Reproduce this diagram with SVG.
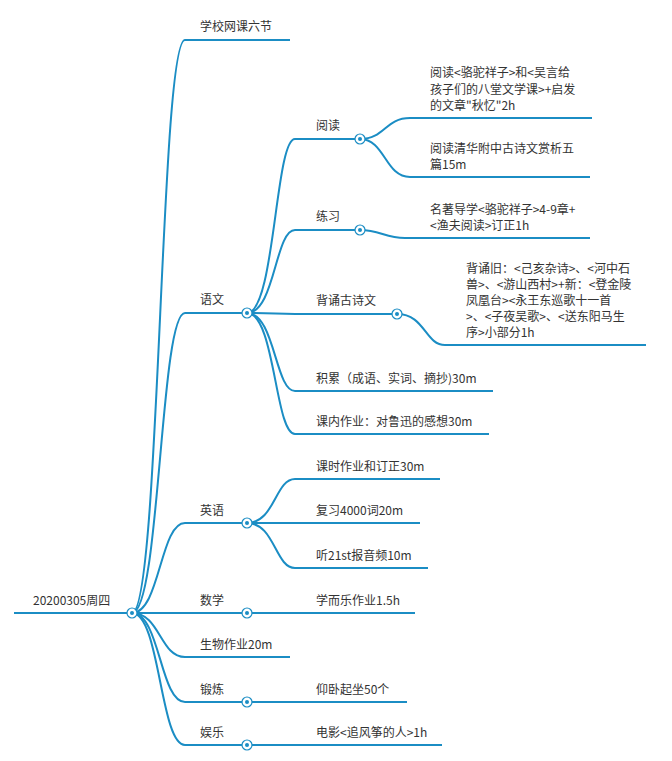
<svg xmlns="http://www.w3.org/2000/svg" width="672" height="761" viewBox="0 0 672 761">
<style>
.c{fill:none;stroke:#1b8dc4;stroke-width:2}
text{font-family:"Noto Sans CJK SC","Noto Sans",sans-serif;font-size:12px;fill:#333}
.dot circle.o{fill:#fff;stroke:#1b8dc4;stroke-width:1.2}
.dot circle.i{fill:#1b8dc4}
</style>
<defs>
<g id="d"><circle r="5" fill="#fff" stroke="#1b8dc4" stroke-width="1.2"/><circle r="2" fill="#1b8dc4"/></g>
</defs>
<g id="connectors">
<path class="c" d="M14 613H132"/>
<path class="c" d="M132 613C160 613 160 40 185 40H290"/>
<path class="c" d="M132 613C160 613 160 313 185 313H247"/>
<path class="c" d="M132 613C160 613 160 523 185 523H247"/>
<path class="c" d="M132 613H247"/>
<path class="c" d="M132 613C160 613 160 657 185 657H290"/>
<path class="c" d="M132 613C160 613 160 702 185 702H247"/>
<path class="c" d="M132 613C160 613 160 745 185 745H247"/>
<path class="c" d="M247 313C275 313 275 139 295 139H360"/>
<path class="c" d="M247 313C275 313 275 230 295 230H360"/>
<path class="c" d="M247 313C275 313 275 314 295 314H397"/>
<path class="c" d="M247 313C275 313 275 391 295 391H493"/>
<path class="c" d="M247 313C275 313 275 434 295 434H489"/>
<path class="c" d="M360 139C385 139 385 118 410 118H592"/>
<path class="c" d="M360 139C385 139 385 177 410 177H590"/>
<path class="c" d="M360 230C380 230 385 238 405 238H590"/>
<path class="c" d="M397 314C425 314 425 345 445 345H646"/>
<path class="c" d="M247 523C275 523 275 479 295 479H440"/>
<path class="c" d="M247 523H420"/>
<path class="c" d="M247 523C275 523 275 568 295 568H428"/>
<path class="c" d="M247 613H415"/>
<path class="c" d="M247 702H407"/>
<path class="c" d="M247 745H442"/>
</g>
<g id="root"><text x="33" y="605">20200305周四</text><use href="#d" x="132" y="613"/></g>
<g id="n-xuexiao"><text x="200" y="31">学校网课六节</text></g>
<g id="n-yuwen"><text x="200" y="304">语文</text><use href="#d" x="247" y="313"/></g>
<g id="n-yuedu"><text x="316" y="130">阅读</text><use href="#d" x="360" y="139"/></g>
<g id="n-yuedu1"><text x="430" y="77">阅读&lt;骆驼祥子&gt;和&lt;吴言给</text><text x="430" y="94">孩子们的八堂文学课&gt;+启发</text><text x="430" y="110">的文章"秋忆"2h</text></g>
<g id="n-yuedu2"><text x="430" y="153">阅读清华附中古诗文赏析五</text><text x="430" y="169">篇15m</text></g>
<g id="n-lianxi"><text x="316" y="221">练习</text><use href="#d" x="360" y="230"/></g>
<g id="n-lianxi1"><text x="430" y="214">名著导学&lt;骆驼祥子&gt;4-9章+</text><text x="430" y="230">&lt;渔夫阅读&gt;订正1h</text></g>
<g id="n-beisong"><text x="316" y="305">背诵古诗文</text><use href="#d" x="397" y="314"/></g>
<g id="n-beisong1"><text x="466" y="273">背诵旧：&lt;己亥杂诗&gt;、&lt;河中石</text><text x="466" y="289">兽&gt;、&lt;游山西村&gt;+新：&lt;登金陵</text><text x="466" y="305">凤凰台&gt;&lt;永王东巡歌十一首</text><text x="466" y="321">&gt;、&lt;子夜吴歌&gt;、&lt;送东阳马生</text><text x="466" y="337">序&gt;小部分1h</text></g>
<g id="n-jilei"><text x="316" y="383">积累（成语、实词、摘抄)30m</text></g>
<g id="n-kenei"><text x="316" y="426">课内作业：对鲁迅的感想30m</text></g>
<g id="n-yingyu"><text x="200" y="515">英语</text><use href="#d" x="247" y="523"/></g>
<g id="n-en1"><text x="316" y="471">课时作业和订正30m</text></g>
<g id="n-en2"><text x="316" y="515">复习4000词20m</text></g>
<g id="n-en3"><text x="316" y="560">听21st报音频10m</text></g>
<g id="n-shuxue"><text x="200" y="605">数学</text><use href="#d" x="247" y="613"/></g>
<g id="n-sx1"><text x="316" y="605">学而乐作业1.5h</text></g>
<g id="n-shengwu"><text x="200" y="649">生物作业20m</text></g>
<g id="n-duanlian"><text x="200" y="694">锻炼</text><use href="#d" x="247" y="702"/></g>
<g id="n-dl1"><text x="316" y="694">仰卧起坐50个</text></g>
<g id="n-yule"><text x="200" y="737">娱乐</text><use href="#d" x="247" y="745"/></g>
<g id="n-yl1"><text x="316" y="737">电影&lt;追风筝的人&gt;1h</text></g>
</svg>
